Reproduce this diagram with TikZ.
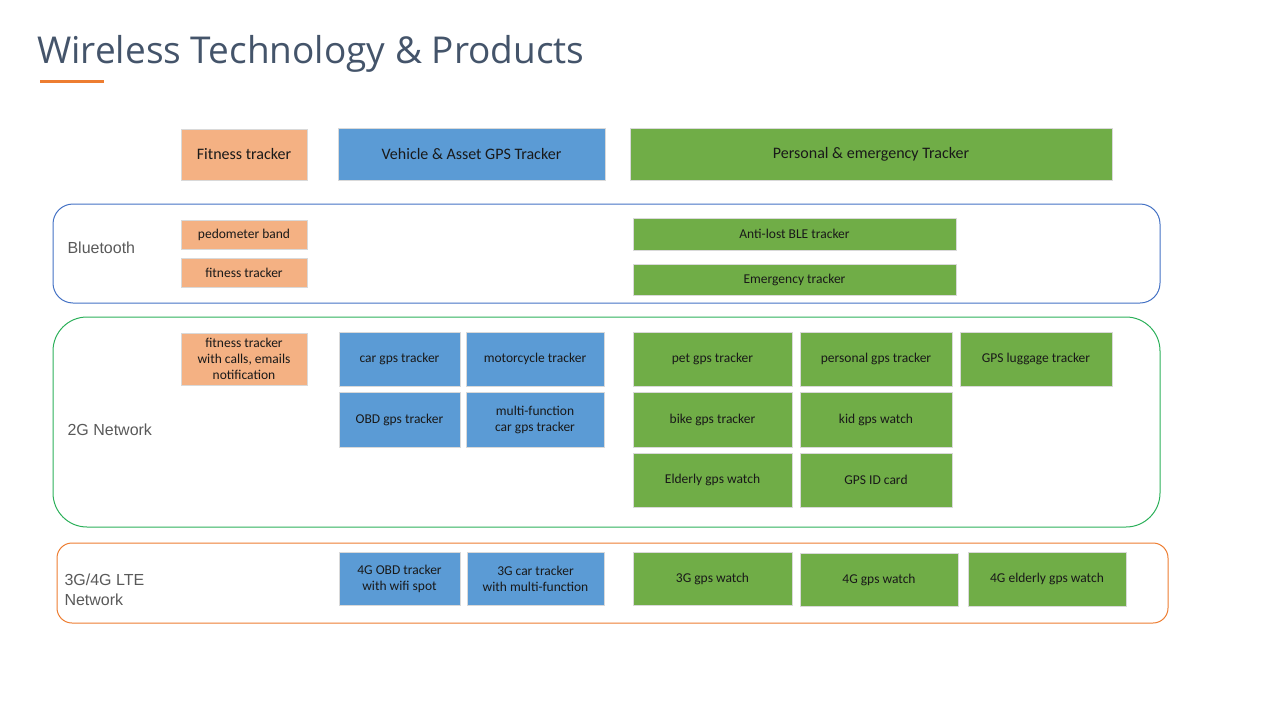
\documentclass[tikz,border=0pt]{standalone}
\usepackage{fontspec}
\setmainfont{Carlito}
\newfontfamily\titlefont{Open Sans}
\newfontfamily\labelfont{Liberation Sans}
\definecolor{fitorange}{HTML}{F4B183}
\definecolor{carblue}{HTML}{5B9BD5}
\definecolor{persgreen}{HTML}{70AD47}
\definecolor{btblue}{HTML}{4472C4}
\definecolor{twogreen}{HTML}{2CB05A}
\definecolor{lteorange}{HTML}{ED7D31}
\definecolor{titlegray}{HTML}{44546A}
\definecolor{labelgray}{HTML}{595959}
\tikzset{
  prod/.style={draw=black!15, line width=0.8pt, align=center, inner sep=0pt,
    text=black!90, font=\fontsize{13.5}{16}\selectfont},
  head/.style={prod, font=\fontsize{16}{18}\selectfont},
  tech/.style={rounded corners=#1, line width=1pt},
  techlabel/.style={anchor=west, align=left, text=labelgray,
    font=\labelfont\fontsize{16}{20}\selectfont}
}
\begin{document}
\begin{tikzpicture}[x=1pt,y=-1pt]
    \useasboundingbox (0,0) rectangle (1280,720);
    % title
    \node[anchor=base west, inner sep=0pt, text=titlegray, font=\titlefont\fontsize{37}{44}\selectfont] (title) at (37,63) {Wireless Technology \& Products};
    \draw[lteorange, line width=3pt] (40,81) -- (104,81);
    % technology bands
    \draw[tech=20pt, btblue] (53,204) rectangle (1160,303);
    \draw[tech=34pt, twogreen] (53,317) rectangle (1160,527);
    \draw[tech=15pt, lteorange] (57,543) rectangle (1168,623);
    \node[techlabel] (bt) at (64,248) {Bluetooth};
    \node[techlabel] (twog) at (64,430) {2G Network};
    \node[techlabel] (lte) at (61,590) {3G/4G LTE\\Network};
    % column headers
    \foreach \x/\y/\w/\h/\n/\c/\l in {244/154.5/126/51/fit/fitorange/{Fitness tracker},
        471.5/154/267/52/veh/carblue/{Vehicle \& Asset GPS Tracker},
        871/154/482/52/pers/persgreen/{Personal \& emergency Tracker}}{
        \node[head, fill=\c, minimum width=\w, minimum height=\h] (\n) at (\x,\y) {\l};
    }
    % products
    \foreach \x/\y/\w/\h/\n/\c/\l in {244/234.5/126/29/ped/fitorange/{pedometer band},
        244/272.5/126/29/fitb/fitorange/{fitness tracker},
        794.5/234/323/32/anti/persgreen/{Anti-lost BLE tracker},
        794.5/279.5/323/31/emer/persgreen/{Emergency tracker},
        244/359/126/52/fitc/fitorange/{fitness tracker\\with calls, emails\\notification},
        399.5/359/121/54/car/carblue/{car gps tracker},
        535/359/138/54/moto/carblue/{motorcycle tracker},
        399.5/419.5/121/55/obd/carblue/{OBD gps tracker},
        535/419.5/138/55/multi/carblue/{multi-function\\car gps tracker},
        712.5/359/159/54/pet/persgreen/{pet gps tracker},
        876/359/152/54/personal/persgreen/{personal gps tracker},
        1036/359/152/54/lug/persgreen/{GPS luggage tracker},
        712.5/419.5/159/55/bike/persgreen/{bike gps tracker},
        876/419.5/152/55/kid/persgreen/{kid gps watch},
        712.5/480/159/54/eld/persgreen/{Elderly gps watch},
        876/480/152/54/gid/persgreen/{GPS ID card},
        399.5/578.5/121/53/obdf/carblue/{4G OBD tracker\\with wifi spot},
        535.5/578.5/137/53/cart/carblue/{3G car tracker\\with multi-function},
        712.5/578.5/159/53/wt/persgreen/{3G gps watch},
        879/579.5/158/53/wf/persgreen/{4G gps watch},
        1047/579/158/54/ewf/persgreen/{4G elderly gps watch}}{
        \node[prod, fill=\c, minimum width=\w, minimum height=\h] (\n) at (\x,\y) {\l};
    }
\end{tikzpicture}
\end{document}
